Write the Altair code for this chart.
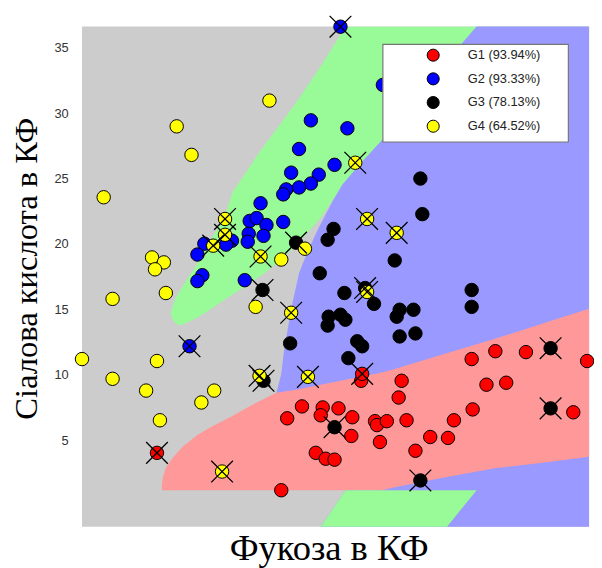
import altair as alt
import pandas as pd

# ---------------- scatter data (x: fucose, arbitrary units; y: sialic acid) ----------------
groups = ["G1 (93.94%)", "G2 (93.33%)", "G3 (78.13%)", "G4 (64.52%)"]
group_colors = ["#ff0000", "#0000ff", "#000000", "#ffff00"]

g1_x = [7.6, 20.8, 20.2, 22.3, 24.4, 26.0, 24.2, 27.4, 27.3, 29.7, 29.9, 30.9, 32.9, 32.1, 32.4, 28.3, 28.4,
        30.2, 23.7, 24.7, 25.6, 33.8, 35.3, 37.1, 37.7, 39.6, 39.5, 41.9, 45.0, 51.2, 41.0, 43.0, 49.8]
g1_y = [4.03, 6.67, 1.17, 7.58, 7.50, 7.43, 6.90, 6.75, 5.32, 6.45, 6.15, 6.45, 6.52, 8.26, 9.54, 9.54, 10.07,
        4.86, 4.03, 3.58, 3.51, 4.19, 5.24, 5.17, 6.52, 7.35, 11.20, 11.80, 11.73, 11.05, 9.24, 9.39, 7.13]
g1_miss = [1, 0, 0, 0, 0, 0, 0, 0, 0, 0, 0, 0, 0, 0, 0, 0, 1,
           0, 0, 0, 0, 0, 0, 0, 0, 0, 0, 0, 0, 0, 0, 0, 0]

g2_x = [26.2, 30.5, 23.2, 26.9, 22.0, 25.6, 21.2, 24.0, 23.2, 22.0, 20.7, 20.4, 18.1, 20.4, 17.0, 17.7, 18.7,
        16.9, 18.4, 16.8, 15.2, 14.6, 12.4, 11.7, 12.2, 11.7, 16.5, 10.9]
g2_y = [36.61, 32.16, 29.45, 28.84, 27.26, 26.05, 25.45, 25.30, 24.62, 24.32, 24.17, 23.79, 23.11, 21.68, 21.76,
        21.98, 21.45, 20.78, 20.62, 20.17, 20.25, 19.95, 20.02, 19.19, 17.61, 17.16, 17.23, 12.18]
g2_miss = [1, 0, 0, 0, 0, 0, 0, 0, 0, 0, 0, 0, 0, 0, 0, 0, 0,
           0, 0, 0, 0, 0, 0, 0, 0, 0, 0, 1]

g3_x = [34.3, 34.5, 25.5, 24.9, 21.7, 31.7, 24.1, 26.6, 18.3, 28.7, 29.6, 39.5, 39.5, 32.2, 33.6, 31.9, 25.0,
        26.2, 26.7, 24.9, 32.2, 33.8, 27.9, 28.4, 21.1, 27.0, 18.4, 25.6, 47.5, 47.5, 34.3]
g3_y = [25.00, 22.28, 21.15, 20.32, 20.10, 18.74, 17.76, 16.25, 16.48, 16.63, 15.42, 16.48, 15.19, 14.97, 14.97,
        14.44, 14.44, 14.59, 14.21, 13.76, 12.93, 13.16, 12.56, 12.18, 12.40, 11.27, 9.54, 5.99, 12.03, 7.43, 1.92]
g3_miss = [0, 0, 0, 0, 1, 0, 0, 0, 1, 1, 0, 0, 0, 0, 0, 0, 0,
           0, 0, 0, 0, 0, 0, 0, 0, 0, 1, 1, 1, 1, 1]

g4_x = [19.0, 9.6, 11.1, 2.2, 27.7, 28.9, 31.9, 14.5, 14.5, 13.3, 18.1, 20.2, 22.6, 7.1, 8.3, 7.4, 8.5, 3.1,
        17.6, 21.2, 28.9, 0.0, 7.6, 3.1, 6.5, 13.4, 12.1, 7.9, 18.0, 22.9, 14.2]
g4_y = [30.96, 28.99, 26.81, 23.57, 26.21, 21.91, 20.85, 21.91, 20.70, 19.87, 19.04, 18.81, 19.64, 18.97, 18.59,
        18.06, 16.25, 15.80, 15.19, 14.74, 16.33, 11.20, 11.05, 9.69, 8.79, 8.79, 7.88, 6.52, 9.92, 9.84, 2.60]
g4_miss = [0, 0, 0, 0, 1, 1, 1, 1, 1, 1, 1, 0, 0, 0, 0, 0, 0, 0,
           0, 1, 1, 0, 0, 0, 0, 0, 0, 0, 1, 1, 1]

# ---------------- classification regions (boundaries in data units) ----------------
x_min, x_max = 0.0, 51.4
y_min, y_max = -1.62, 36.62

# green (G2) band: for each y, from left edge to right edge
green_y = [36.61, 33.82, 30.80, 27.03, 24.55, 24.02, 21.98, 20.25, 19.72, 17.99, 17.61, 16.25, 15.72, 14.74, 14.37, 13.99, 13.76]
green_xl = [26.7, 24.4, 21.7, 18.0, 15.8, 15.3, 14.4, 13.0, 12.5, 11.3, 10.9, 9.8, 9.4, 9.0, 9.1, 9.4, 9.9]
green_xr = [51.4, 51.4, 51.4, 51.4, 26.4, 26.0, 24.2, 22.1, 21.5, 18.9, 18.2, 15.5, 14.4, 12.5, 11.7, 10.7, 9.9]

# blue (G3) region: left edge, extends to right border
blue_y = [36.62, 32.31, 28.17, 26.13, 24.55, 23.26, 21.23, 19.49, 17.76, 15.72, 13.69, 11.95, 10.07, 8.56, 4.41, 1.17, -1.62]
blue_xl = [40.0, 35.0, 30.7, 28.2, 26.4, 25.4, 24.0, 22.9, 22.0, 21.4, 20.9, 20.5, 20.2, 19.7, 21.7, 26.7, 24.2]

# red (G1) region: for each x, from top to bottom boundary
red_x = [8.1, 8.2, 8.5, 9.2, 10.2, 11.7, 13.2, 15.0, 17.5, 19.7, 21.7, 26.7, 30.4, 31.7, 36.7, 41.7, 46.7, 51.4]
red_top = [1.62, 2.15, 2.90, 3.66, 4.49, 5.39, 6.07, 6.75, 7.81, 8.63, 8.86, 9.62, 10.17, 10.44, 11.58, 12.71, 13.91, 15.04]
red_bot = [1.17, 1.17, 1.17, 1.17, 1.17, 1.17, 1.17, 1.17, 1.17, 1.17, 1.17, 1.17, 1.17, 1.40, 2.15, 2.83, 3.28, 3.73]

# lower green strip below the red region
strip_y = [-1.62, 1.17]
strip_xl = [24.2, 26.7]
strip_xr = [37.0, 40.0]

# ---------------- tables ----------------
rows = []
for g, xs, ys, ms in zip(groups, [g1_x, g2_x, g3_x, g4_x], [g1_y, g2_y, g3_y, g4_y],
                         [g1_miss, g2_miss, g3_miss, g4_miss]):
    for a, b, m in zip(xs, ys, ms):
        rows.append({"x": a, "y": b, "group": g, "miss": m})
pts = pd.DataFrame(rows)

green_df = pd.DataFrame({"y": green_y, "xl": green_xl, "xr": green_xr}).sort_values("y")
blue_df = pd.DataFrame({"y": blue_y, "xl": blue_xl, "xr": [x_max] * len(blue_y)}).sort_values("y")
red_df = pd.DataFrame({"x": red_x, "yt": red_top, "yb": red_bot})
strip_df = pd.DataFrame({"y": strip_y, "xl": strip_xl, "xr": strip_xr})

xscale = alt.Scale(domain=[x_min, x_max], nice=False, zero=False)
yscale = alt.Scale(domain=[y_min, y_max], nice=False, zero=False)

xaxis = alt.Axis(labels=False, ticks=False, domain=False, grid=False,
                 title="Фукоза в КФ", titleFont="Liberation Serif", titleFontSize=37,
                 titleFontWeight="normal", titleColor="black", titleX=250, titleY=33,
                 titleAlign="center", titleBaseline="alphabetic")
yaxis = alt.Axis(values=[5, 10, 15, 20, 25, 30, 35], ticks=False, domain=False, grid=False,
                 labelFont="Liberation Sans", labelFontSize=13, labelColor="#333", labelPadding=14,
                 title="Сіалова кислота в КФ", titleFont="Liberation Serif", titleFontSize=33,
                 titleFontWeight="normal", titleColor="black", titleX=-46, titleY=245,
                 titleAngle=270, titleAlign="center", titleBaseline="alphabetic")

green = alt.Chart(green_df).mark_area(orient="horizontal", color="#98fb98", opacity=1).encode(
    y=alt.Y("y:Q", scale=yscale, axis=yaxis),
    x=alt.X("xl:Q", scale=xscale, axis=xaxis),
    x2="xr:Q",
)
blue = alt.Chart(blue_df).mark_area(orient="horizontal", color="#9999ff", opacity=1).encode(
    y=alt.Y("y:Q", scale=yscale, axis=yaxis),
    x=alt.X("xl:Q", scale=xscale, axis=xaxis),
    x2="xr:Q",
)
red = alt.Chart(red_df).mark_area(orient="vertical", color="#ff9999", opacity=1).encode(
    x=alt.X("x:Q", scale=xscale, axis=xaxis),
    y=alt.Y("yt:Q", scale=yscale, axis=yaxis),
    y2="yb:Q",
)
strip = alt.Chart(strip_df).mark_area(orient="horizontal", color="#98fb98", opacity=1).encode(
    y=alt.Y("y:Q", scale=yscale, axis=yaxis),
    x=alt.X("xl:Q", scale=xscale, axis=xaxis),
    x2="xr:Q",
)

legend = alt.Legend(
    title=None, orient="none", legendX=312, legendY=15, padding=7,
    symbolType="circle", symbolSize=150, symbolStrokeColor="black", symbolStrokeWidth=1,
    symbolOffset=30, labelOffset=28, rowPadding=6,
    labelFont="Liberation Sans", labelFontSize=13, labelColor="#222",
)

points = alt.Chart(pts).mark_point(filled=True, size=185, stroke="black", strokeWidth=1, opacity=1).encode(
    x=alt.X("x:Q", scale=xscale, axis=xaxis),
    y=alt.Y("y:Q", scale=yscale, axis=yaxis),
    color=alt.Color("group:N", scale=alt.Scale(domain=groups, range=group_colors), legend=legend),
)
crosses = alt.Chart(pts).transform_filter(alt.datum.miss == 1).mark_point(
    shape="M-1,-1L1,1M-1,1L1,-1", filled=False, size=484, color="black", strokeWidth=1.3, opacity=1
).encode(
    x=alt.X("x:Q", scale=xscale, axis=xaxis),
    y=alt.Y("y:Q", scale=yscale, axis=yaxis),
)

# white legend box (layout only)
legend_box = alt.Chart(pd.DataFrame({"box": [0]})).mark_rect(
    fill="white", stroke="#777", strokeWidth=1.2
).encode(
    x=alt.value(305), x2=alt.value(493), y=alt.value(18), y2=alt.value(117)
)

chart = alt.layer(green, blue, red, strip, points, crosses, legend_box).properties(
    width=514, height=507,
    autosize=alt.AutoSizeParams(type="none"),
    padding={"left": 75, "top": 15, "right": 5, "bottom": 38},
).configure_view(fill="#cccccc", stroke=None)

chart.save("out.html", embed_options={"renderer": "svg", "actions": False})
